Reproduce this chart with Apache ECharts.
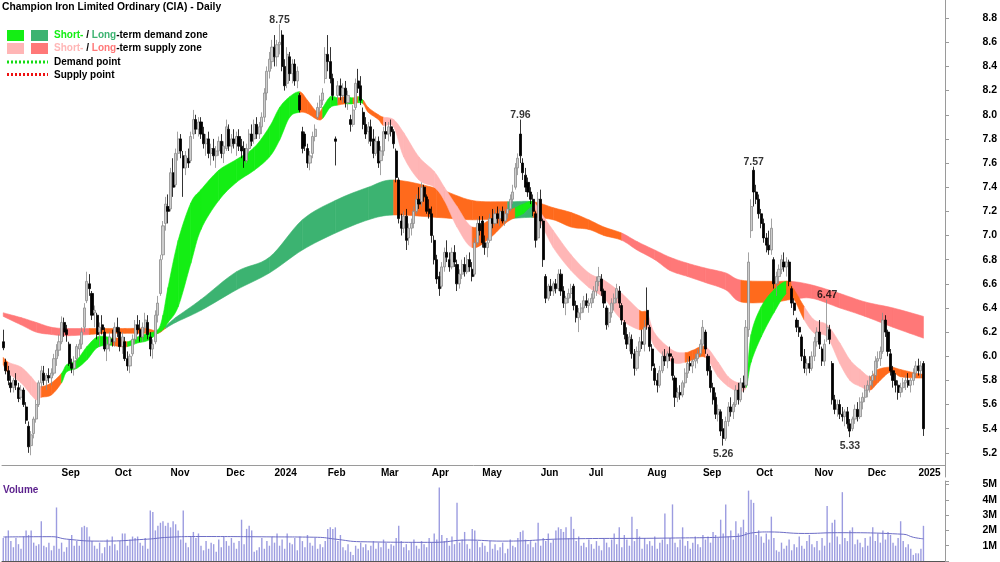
<!DOCTYPE html>
<html>
<head>
<meta charset="utf-8">
<title>Champion Iron Limited Ordinary (CIA) - Daily</title>
<script src="https://cdn.jsdelivr.net/npm/echarts@6/dist/echarts.min.js"></script>
<style>
  html, body { margin: 0; padding: 0; background: #fff; }
  #chart { width: 1000px; height: 562px; }
</style>
</head>
<body>
<div id="chart"></div>
<script>
// trading days: weekdays between these dates, minus ASX holidays
const firstDay = '2023-08-01';
const lastDay = '2025-01-03';
const holidays = ['2023-12-25', '2023-12-26', '2024-01-01', '2024-01-26', '2024-03-29',
  '2024-04-01', '2024-04-25', '2024-06-10', '2024-12-25', '2024-12-26', '2025-01-01'];
const blankDays = 9; // empty slots right of the last bar
const monthNames = ['', 'Feb', 'Mar', 'Apr', 'May', 'Jun', 'Jul', 'Aug', 'Sep', 'Oct', 'Nov', 'Dec'];

// daily bars [open, high, low, close]
const bars = [
  // 0-22
  [6.12,6.22,6.05,6.07],[5.95,5.98,5.85,5.88],[5.88,5.92,5.76,5.80],[5.78,5.84,5.70,5.74],[5.74,5.82,5.70,5.80],
  [5.80,5.86,5.72,5.76],[5.74,5.78,5.62,5.65],[5.66,5.76,5.64,5.72],[5.72,5.74,5.58,5.60],[5.58,5.62,5.44,5.47],
  [5.42,5.46,5.20,5.25],[5.26,5.38,5.18,5.35],[5.36,5.50,5.32,5.48],[5.48,5.64,5.45,5.60],[5.60,5.80,5.58,5.78],
  [5.78,5.92,5.74,5.88],[5.86,5.92,5.76,5.80],[5.80,5.86,5.72,5.84],[5.84,5.90,5.78,5.82],[5.82,5.90,5.76,5.86],
  [5.86,6.02,5.84,5.98],[5.98,6.10,5.92,6.05],[6.05,6.18,6.00,6.12],
  // 23-43
  [6.12,6.33,6.10,6.28],[6.28,6.32,6.16,6.20],[6.22,6.26,6.12,6.18],[6.10,6.12,5.92,5.94],[5.94,5.98,5.86,5.90],
  [5.90,6.00,5.84,5.96],[5.98,6.10,5.96,6.08],[6.06,6.14,6.00,6.10],[6.10,6.24,6.06,6.20],[6.24,6.44,6.20,6.40],
  [6.46,6.70,6.44,6.62],[6.60,6.68,6.50,6.56],[6.52,6.54,6.30,6.34],[6.36,6.42,6.24,6.38],[6.34,6.36,6.14,6.18],
  [6.20,6.28,6.08,6.24],[6.26,6.34,6.18,6.22],[6.20,6.24,6.04,6.06],[6.06,6.14,5.96,6.10],[6.10,6.20,6.04,6.16],
  [6.14,6.22,6.08,6.12],
  // 44-65
  [6.12,6.28,6.08,6.24],[6.24,6.32,6.16,6.20],[6.20,6.24,6.04,6.08],[6.08,6.20,6.02,6.16],[6.12,6.16,5.96,5.98],
  [5.98,6.04,5.88,5.92],[5.92,6.02,5.86,6.00],[6.02,6.18,6.00,6.14],[6.14,6.30,6.10,6.26],[6.26,6.34,6.18,6.22],
  [6.22,6.30,6.12,6.16],[6.16,6.28,6.12,6.24],[6.24,6.36,6.20,6.30],[6.28,6.34,6.14,6.18],[6.16,6.20,6.00,6.06],
  [6.06,6.14,5.98,6.10],[6.12,6.38,6.10,6.34],[6.34,6.50,6.28,6.44],[6.52,6.84,6.50,6.80],[6.84,7.12,6.80,7.08],
  [7.10,7.32,7.04,7.26],[7.24,7.34,7.10,7.20],
  // 66-88
  [7.22,7.56,7.20,7.52],[7.52,7.64,7.32,7.40],[7.42,7.72,7.40,7.68],[7.68,7.86,7.62,7.80],[7.80,7.84,7.64,7.70],
  [7.66,7.70,7.32,7.56],[7.56,7.70,7.50,7.66],[7.64,7.72,7.56,7.60],[7.62,7.86,7.60,7.82],[7.84,8.04,7.80,7.96],
  [7.96,8.00,7.84,7.88],[7.88,7.98,7.82,7.94],[7.94,7.98,7.80,7.84],[7.84,7.90,7.72,7.76],[7.76,7.84,7.66,7.80],
  [7.80,7.86,7.64,7.68],[7.68,7.76,7.58,7.72],[7.72,7.80,7.62,7.66],[7.66,7.74,7.56,7.70],[7.70,7.82,7.66,7.78],
  [7.78,7.84,7.64,7.68],[7.68,7.78,7.60,7.74],[7.72,7.96,7.70,7.90],
  // 89-107
  [7.88,7.92,7.70,7.74],[7.74,7.84,7.68,7.80],[7.80,7.88,7.72,7.76],[7.76,7.86,7.66,7.82],[7.82,7.88,7.70,7.74],
  [7.74,7.80,7.64,7.70],[7.72,7.78,7.56,7.62],[7.62,7.76,7.60,7.72],[7.72,7.88,7.68,7.84],[7.84,7.92,7.74,7.78],
  [7.80,7.96,7.76,7.92],[7.92,7.98,7.80,7.84],[7.84,7.94,7.80,7.90],[7.90,8.02,7.84,7.98],[7.98,8.22,7.94,8.18],
  [8.18,8.40,8.12,8.36],[8.36,8.52,8.30,8.46],[8.44,8.62,8.38,8.56],[8.56,8.66,8.40,8.48],
  // 108-128
  [8.48,8.62,8.40,8.58],[8.58,8.75,8.50,8.60],[8.66,8.70,8.36,8.40],[8.40,8.46,8.20,8.24],[8.26,8.56,8.22,8.50],
  [8.48,8.52,8.28,8.34],[8.34,8.46,8.26,8.42],[8.42,8.46,8.24,8.28],[8.28,8.40,8.22,8.36],[8.16,8.18,8.02,8.04],
  [7.86,7.90,7.68,7.72],[7.84,7.86,7.70,7.74],[7.72,7.76,7.56,7.60],[7.60,7.70,7.54,7.66],[7.68,7.86,7.64,7.82],
  [7.82,7.92,7.78,7.88],[7.98,8.10,7.96,8.06],[8.06,8.16,8.00,8.12],[8.12,8.22,8.08,8.18],[8.30,8.56,8.26,8.50],
  [8.50,8.66,8.36,8.44],
  // 129-149
  [8.44,8.56,8.26,8.30],[8.30,8.34,8.12,8.16],[7.80,7.82,7.58,7.78],[8.16,8.28,8.10,8.24],[8.24,8.30,8.12,8.16],
  [8.16,8.26,8.10,8.22],[8.22,8.28,8.06,8.10],[8.10,8.20,8.04,8.16],[7.96,8.00,7.86,7.92],[7.92,8.08,7.90,8.04],
  [8.06,8.30,8.04,8.26],[8.28,8.38,8.18,8.22],[8.24,8.32,8.08,8.12],[8.02,8.06,7.88,7.92],[7.92,7.98,7.80,7.84],
  [7.86,7.94,7.76,7.90],[7.90,7.96,7.74,7.78],[7.80,7.88,7.64,7.68],[7.68,7.82,7.66,7.78],[7.78,7.82,7.56,7.60],
  [7.62,7.74,7.50,7.70],
  // 150-169
  [7.70,7.90,7.66,7.86],[7.86,7.94,7.80,7.84],[7.84,7.94,7.78,7.90],[7.90,7.96,7.82,7.86],[7.86,7.88,7.72,7.76],
  [7.70,7.72,7.44,7.48],[7.46,7.48,7.10,7.14],[7.12,7.18,7.00,7.06],[7.06,7.20,7.02,7.16],[7.16,7.22,6.88,6.96],
  [6.98,7.10,6.92,7.06],[7.06,7.14,7.00,7.10],[7.10,7.24,7.06,7.20],[7.20,7.34,7.18,7.30],[7.30,7.40,7.22,7.26],
  [7.28,7.44,7.24,7.40],[7.40,7.42,7.28,7.32],[7.32,7.34,7.18,7.20],[7.22,7.30,7.14,7.18],[7.18,7.24,6.94,7.00],
  // 170-189
  [6.96,7.00,6.76,6.80],[6.80,6.84,6.60,6.64],[6.66,6.70,6.50,6.56],[6.58,6.78,6.56,6.74],[6.74,6.90,6.70,6.86],
  [6.86,6.96,6.78,6.82],[6.80,6.86,6.70,6.74],[6.74,6.90,6.72,6.86],[6.86,6.92,6.74,6.78],[6.76,6.80,6.54,6.60],
  [6.60,6.72,6.56,6.68],[6.68,6.80,6.64,6.76],[6.76,6.82,6.66,6.70],[6.70,6.84,6.68,6.80],[6.80,6.86,6.70,6.74],
  [6.72,6.78,6.62,6.66],[6.68,6.98,6.66,6.94],[6.94,7.14,6.92,7.10],[7.10,7.16,7.00,7.04],[7.12,7.16,6.90,6.94],
  // 190-212
  [6.94,7.00,6.84,6.90],[6.90,6.98,6.82,6.94],[6.96,7.18,6.94,7.14],[7.14,7.22,7.06,7.10],[7.10,7.22,7.08,7.18],
  [7.18,7.24,7.10,7.14],[7.14,7.22,7.08,7.20],[7.20,7.24,7.10,7.12],[7.12,7.22,7.08,7.18],[7.18,7.26,7.14,7.22],
  [7.22,7.34,7.20,7.30],[7.30,7.42,7.26,7.36],[7.40,7.60,7.38,7.56],[7.56,7.68,7.50,7.64],[7.84,7.96,7.60,7.66],
  [7.60,7.64,7.46,7.52],[7.50,7.56,7.36,7.40],[7.44,7.48,7.32,7.36],[7.36,7.40,7.26,7.30],[7.30,7.34,7.16,7.20],
  [7.18,7.20,6.90,6.96],[6.98,7.36,6.96,7.30],[7.30,7.38,7.06,7.12],
  // 213-231
  [7.12,7.14,6.74,6.80],[6.66,6.68,6.44,6.48],[6.48,6.60,6.46,6.58],[6.58,6.64,6.50,6.54],[6.54,6.62,6.50,6.60],
  [6.60,6.64,6.52,6.56],[6.56,6.72,6.54,6.68],[6.68,6.72,6.50,6.54],[6.54,6.58,6.40,6.44],[6.44,6.50,6.34,6.48],
  [6.48,6.56,6.44,6.52],[6.52,6.60,6.48,6.56],[6.58,6.60,6.38,6.42],[6.42,6.46,6.28,6.32],[6.32,6.40,6.20,6.36],
  [6.36,6.44,6.30,6.40],[6.40,6.50,6.36,6.46],[6.46,6.52,6.40,6.42],[6.42,6.48,6.36,6.44],
  // 232-254
  [6.44,6.52,6.40,6.48],[6.48,6.58,6.44,6.54],[6.54,6.66,6.50,6.62],[6.62,6.74,6.58,6.66],[6.64,6.68,6.50,6.54],
  [6.54,6.56,6.40,6.44],[6.40,6.42,6.22,6.26],[6.28,6.40,6.24,6.36],[6.36,6.48,6.32,6.44],[6.44,6.52,6.38,6.48],
  [6.48,6.60,6.44,6.56],[6.54,6.58,6.40,6.44],[6.42,6.44,6.26,6.30],[6.28,6.30,6.14,6.18],[6.18,6.24,6.06,6.10],
  [6.10,6.20,6.04,6.16],[6.14,6.18,5.98,6.02],[6.02,6.06,5.84,5.90],[5.90,6.08,5.88,6.04],[6.04,6.16,6.00,6.12],
  [6.12,6.22,6.06,6.10],[6.10,6.30,6.04,6.24],[6.38,6.57,6.22,6.26],
  // 255-276
  [6.24,6.26,6.04,6.08],[6.06,6.10,5.88,5.92],[5.90,5.94,5.76,5.80],[5.80,5.86,5.70,5.76],[5.76,5.92,5.74,5.88],
  [5.88,6.04,5.86,6.00],[6.00,6.06,5.92,5.96],[5.96,6.04,5.90,6.02],[6.02,6.08,5.96,6.00],[5.98,6.00,5.80,5.84],
  [5.82,5.84,5.58,5.66],[5.66,5.74,5.62,5.70],[5.70,5.76,5.64,5.68],[5.68,5.80,5.66,5.78],[5.78,5.90,5.74,5.86],
  [5.86,5.98,5.82,5.94],[5.94,6.00,5.88,5.92],[5.92,5.98,5.86,5.96],[5.96,6.02,5.90,5.98],[5.98,6.06,5.94,6.02],
  [6.02,6.14,6.00,6.10],[6.10,6.30,6.06,6.24],
  // 277-297
  [6.20,6.22,6.02,6.06],[6.00,6.02,5.84,5.88],[5.88,5.92,5.70,5.74],[5.74,5.78,5.60,5.64],[5.66,5.70,5.48,5.52],
  [5.52,5.60,5.46,5.56],[5.54,5.56,5.34,5.38],[5.40,5.48,5.26,5.32],[5.32,5.50,5.30,5.46],[5.46,5.62,5.42,5.58],
  [5.58,5.66,5.50,5.54],[5.54,5.62,5.48,5.60],[5.60,5.76,5.58,5.72],[5.72,5.78,5.60,5.64],[5.64,5.82,5.62,5.78],
  [5.78,5.84,5.70,5.74],[5.76,6.30,5.74,6.24],[6.22,6.86,6.16,6.78],[7.04,7.30,6.98,7.24],[7.54,7.57,7.24,7.36],
  [7.36,7.42,7.26,7.30],
  // 298-320
  [7.30,7.34,7.14,7.18],[7.18,7.22,7.06,7.10],[7.10,7.14,6.94,6.98],[6.98,7.02,6.86,6.92],[6.92,7.04,6.84,6.88],
  [6.88,7.14,6.84,7.06],[6.80,6.82,6.56,6.60],[6.60,6.70,6.50,6.66],[6.66,6.76,6.60,6.72],[6.72,6.84,6.68,6.80],
  [6.78,6.86,6.70,6.74],[6.74,6.82,6.66,6.78],[6.78,6.80,6.58,6.62],[6.56,6.58,6.40,6.44],[6.44,6.48,6.34,6.38],
  [6.30,6.32,6.20,6.24],[6.24,6.30,6.16,6.20],[6.16,6.18,5.96,6.00],[6.00,6.06,5.86,5.90],[5.90,5.98,5.84,5.94],
  [5.94,6.00,5.86,5.90],[5.90,6.04,5.88,6.00],[6.00,6.16,5.96,6.12],
  // 321-341
  [6.12,6.24,6.08,6.20],[6.20,6.30,6.06,6.10],[6.06,6.08,5.92,5.96],[5.96,6.14,5.92,6.10],[6.14,6.47,6.12,6.24],
  [6.22,6.26,6.10,6.14],[5.94,5.96,5.60,5.64],[5.64,5.68,5.52,5.56],[5.56,5.64,5.50,5.60],[5.60,5.64,5.48,5.52],
  [5.52,5.58,5.46,5.50],[5.50,5.56,5.42,5.54],[5.54,5.58,5.40,5.44],[5.44,5.48,5.33,5.38],[5.40,5.50,5.38,5.48],
  [5.48,5.60,5.44,5.56],[5.56,5.62,5.46,5.50],[5.50,5.66,5.48,5.62],[5.62,5.70,5.56,5.66],[5.66,5.76,5.62,5.72],
  [5.72,5.80,5.66,5.76],
  // 342-363
  [5.76,5.84,5.70,5.80],[5.80,5.88,5.74,5.84],[5.84,6.00,5.80,5.96],[5.96,6.04,5.90,5.98],[5.98,6.08,5.92,6.04],
  [6.04,6.36,6.02,6.30],[6.30,6.34,6.16,6.20],[6.20,6.22,6.00,6.04],[6.02,6.06,5.84,5.88],[5.88,5.92,5.74,5.80],
  [5.80,5.86,5.70,5.76],[5.76,5.80,5.64,5.70],[5.70,5.78,5.66,5.74],[5.74,5.82,5.70,5.78],[5.78,5.84,5.72,5.80],
  [5.80,5.86,5.74,5.76],[5.76,5.82,5.70,5.80],[5.80,5.90,5.76,5.86],[5.86,5.96,5.82,5.92],[5.92,5.98,5.84,5.88],
  [5.88,5.96,5.82,5.92],[5.94,5.96,5.34,5.40]
];

// daily volume, millions of shares
const volumes = [
  1.5,1.6,2.0,1.3,0.9,1.5,1.1,0.8,1.6,2.0,1.7,2.0,1.2,1.0,1.1,2.6,1.0,0.9,1.2,0.7,1.0,3.5,0.8,
  1.2,0.6,0.9,1.4,1.7,1.0,1.3,1.0,2.2,2.3,2.2,1.6,1.3,1.0,0.8,1.2,0.5,0.9,1.4,1.0,1.6,
  1.1,0.7,1.3,1.8,1.8,1.0,1.4,1.6,1.5,1.6,1.2,1.0,1.5,0.8,3.3,3.2,2.0,2.3,2.5,2.6,2.3,2.5,
  2.2,2.6,2.4,2.0,1.4,3.3,1.2,0.9,1.6,1.9,1.5,1.8,1.0,0.7,1.3,0.8,1.2,1.1,0.6,1.4,0.9,1.6,1.3,
  1.0,1.5,1.2,0.8,1.3,2.7,1.1,2.1,2.3,2.0,0.6,0.7,0.9,1.5,0.8,1.3,1.0,1.6,1.2,
  1.8,1.0,1.4,0.8,1.8,1.2,1.1,1.5,0.7,1.6,1.3,0.9,1.7,1.2,1.0,1.5,0.8,1.1,0.9,1.3,2.1,
  2.2,2.1,2.2,1.3,1.7,0.9,0.7,1.1,0.6,0.4,1.0,0.8,1.2,0.9,1.1,0.7,1.0,1.3,0.8,1.2,0.9,
  1.4,1.2,0.8,1.1,1.0,1.5,2.3,1.3,0.9,1.1,0.7,1.2,1.4,1.0,0.8,1.3,1.1,0.9,1.5,1.2,
  1.8,1.4,4.8,1.7,1.3,1.5,1.0,1.6,1.1,3.8,1.2,1.4,1.9,1.1,0.8,2.1,2.0,1.3,0.9,1.2,
  1.0,0.6,1.3,0.8,1.1,0.7,0.9,1.2,0.5,0.8,1.4,1.0,0.9,1.5,1.9,2.0,1.4,1.1,1.3,0.9,1.2,2.5,1.0,
  1.5,1.3,1.8,1.2,1.4,2.0,2.2,2.1,1.9,2.2,1.5,2.9,2.1,1.3,1.6,1.0,1.2,0.9,1.4,
  1.1,0.8,1.3,1.0,0.7,1.5,1.2,0.9,1.4,1.8,1.1,2.2,0.9,1.7,1.4,1.0,2.9,1.3,2.1,1.6,0.8,1.5,1.1,
  1.3,1.0,1.6,0.8,1.2,1.4,3.1,1.1,1.5,3.7,1.2,0.9,1.4,2.2,1.0,1.3,0.8,1.2,1.6,1.1,0.9,1.7,
  1.4,1.6,1.2,1.9,1.7,1.5,2.7,1.8,3.7,1.6,2.0,1.4,2.6,1.8,2.2,2.7,1.9,4.6,4.0,3.8,1.7,
  2.0,1.6,1.2,1.8,1.4,2.9,1.5,0.7,0.6,1.2,0.8,1.0,1.4,0.7,1.1,0.9,1.6,1.0,0.8,1.3,1.7,1.1,0.9,
  1.3,0.7,1.5,1.0,3.6,1.2,2.5,2.7,1.6,1.1,4.5,1.5,1.3,2.0,2.2,1.1,1.4,1.2,0.9,1.5,1.0,
  1.6,2.2,1.3,1.8,1.2,2.0,1.4,1.9,1.7,1.2,1.0,1.5,2.6,1.3,0.9,1.1,0.8,0.4,0.5,0.5,
  0.8,2.3
];

// volume moving average read at a few bars [bar, millions]
const volumeAvg = [[0,1.57],[19,1.59],[25,1.43],[38,1.30],[57,1.43],[65,1.55],[78,1.60],[104,1.58],
  [124,1.55],[131,1.43],[141,1.26],[170,1.22],[183,1.37],[197,1.30],[223,1.45],[263,1.50],[289,1.60],
  [296,1.85],[302,1.90],[316,1.80],[329,1.85],[355,1.75],[359,1.55],[363,1.45]];

// zones [bar, upper, lower, state]; state D demand, S supply, N neutral (to the next point)
const longZone = [
  [0,6.36,6.33,'S'],[7,6.32,6.26,'S'],[13,6.28,6.20,'S'],[19,6.24,6.18,'S'],[25,6.23,6.17,'S'],
  [34,6.23,6.18,'N'],[40,6.23,6.19,'N'],[48,6.23,6.19,'N'],[56,6.23,6.19,'N'],[61,6.21,6.19,'N'],
  [64,6.25,6.23,'D'],[68,6.32,6.28,'D'],[78,6.47,6.38,'D'],[92,6.70,6.55,'D'],[105,6.82,6.69,'D'],
  [118,7.13,6.88,'D'],[131,7.29,7.02,'D'],[144,7.40,7.13,'D'],[154,7.46,7.17,'N'],[171,7.39,7.15,'N'],
  [185,7.29,7.13,'N'],[199,7.28,7.14,'D'],[209,7.28,7.15,'N'],[217,7.23,7.13,'N'],[224,7.19,7.07,'N'],
  [231,7.13,7.05,'N'],[237,7.07,7.00,'N'],[244,7.02,6.96,'S'],[250,6.95,6.88,'S'],[257,6.88,6.80,'S'],
  [263,6.82,6.71,'S'],[270,6.77,6.66,'S'],[277,6.73,6.61,'S'],[285,6.69,6.55,'S'],[291,6.63,6.45,'N'],
  [304,6.62,6.45,'N'],[311,6.62,6.47,'S'],[319,6.59,6.48,'S'],[330,6.52,6.40,'S'],[340,6.45,6.33,'S'],
  [351,6.40,6.24,'S'],[363,6.33,6.15,'S']
];
const shortZone = [
  [0,5.99,5.93,'N'],[2,5.95,5.86,'S'],[7,5.91,5.78,'S'],[11,5.83,5.68,'S'],[13,5.78,5.64,'S'],
  [15,5.75,5.66,'N'],[19,5.78,5.68,'N'],[23,5.86,5.78,'D'],[25,5.93,5.87,'D'],[29,5.97,5.90,'D'],
  [33,6.08,5.97,'D'],[37,6.16,6.07,'D'],[41,6.16,6.09,'D'],[43,6.15,6.09,'N'],[46,6.15,6.08,'N'],
  [49,6.12,6.08,'D'],[53,6.16,6.11,'D'],[57,6.19,6.13,'D'],[61,6.22,6.19,'D'],[63,6.34,6.22,'D'],
  [65,6.57,6.28,'D'],[69,6.96,6.41,'D'],[74,7.27,6.77,'D'],[78,7.38,7.05,'D'],[85,7.54,7.29,'D'],
  [92,7.63,7.44,'D'],[99,7.73,7.54,'D'],[105,7.90,7.65,'D'],[109,8.06,7.79,'D'],[113,8.15,7.98,'D'],
  [117,8.19,8.02,'N'],[120,8.12,8.01,'N'],[124,8.02,7.96,'N'],[126,8.06,7.97,'D'],[129,8.15,8.06,'D'],
  [132,8.14,8.08,'N'],[135,8.15,8.09,'D'],[138,8.14,8.09,'N'],[140,8.15,8.10,'D'],[142,8.12,8.09,'N'],
  [144,8.06,8.02,'N'],[148,8.00,7.96,'N'],[150,7.98,7.91,'S'],[154,7.96,7.90,'S'],[158,7.85,7.65,'S'],
  [164,7.65,7.46,'S'],[170,7.53,7.40,'S'],[174,7.40,7.29,'S'],[179,7.24,7.07,'S'],[185,7.07,6.90,'N'],
  [192,7.13,6.98,'N'],[198,7.19,7.10,'N'],[202,7.23,7.15,'D'],[205,7.26,7.18,'D'],[209,7.28,7.24,'S'],
  [212,7.19,7.11,'S'],[217,7.04,6.90,'S'],[224,6.84,6.71,'S'],[231,6.69,6.57,'S'],[237,6.63,6.48,'S'],
  [244,6.52,6.30,'S'],[251,6.38,6.22,'N'],[254,6.36,6.24,'S'],[257,6.19,6.08,'S'],[264,6.05,5.95,'S'],
  [269,6.03,5.95,'N'],[272,6.05,5.97,'N'],[277,6.08,5.99,'S'],[282,5.95,5.83,'S'],[286,5.83,5.75,'S'],
  [290,5.78,5.71,'S'],[293,5.80,5.74,'D'],[295,6.18,5.95,'D'],[299,6.41,6.16,'D'],[304,6.55,6.36,'D'],
  [309,6.62,6.52,'N'],[312,6.55,6.47,'N'],[316,6.41,6.30,'S'],[320,6.30,6.19,'S'],[325,6.26,6.16,'S'],
  [330,6.11,5.94,'S'],[334,5.97,5.80,'S'],[338,5.89,5.75,'S'],[342,5.83,5.72,'N'],[345,5.89,5.78,'N'],
  [350,5.91,5.87,'N'],[354,5.89,5.83,'N'],[360,5.86,5.82,'N'],[363,5.85,5.82,'N']
];

// labelled turning points [bar, price, side]
const peaks = [[109,8.75,'top'],[204,7.96,'top'],[296,7.57,'top'],[325,6.47,'top'],[284,5.26,'bottom'],[334,5.33,'bottom']];

// build the category list
const dates = [];
const end = new Date(lastDay + 'T00:00:00Z');
for (let d = new Date(firstDay + 'T00:00:00Z'); d <= end; d.setUTCDate(d.getUTCDate() + 1)) {
  const wd = d.getUTCDay();
  const s = d.toISOString().slice(0, 10);
  if (wd === 0 || wd === 6 || holidays.includes(s)) continue;
  dates.push(s);
}
for (let k = 0; k < blankDays; k++) dates.push('pad' + k);

const monthStart = new Set();
dates.forEach((d, i) => {
  if (i > 0 && d.length === 10 && d.slice(0, 7) !== dates[i - 1].slice(0, 7)) monthStart.add(i);
});
const monthLabel = (value) => {
  const m = +value.slice(5, 7);
  return m === 1 ? value.slice(0, 4) : monthNames[m - 1];
};

const FONT = '"Liberation Sans", Arial, sans-serif';
const shortColors = { D: '#14ee14', S: '#ffb6b6', N: '#ff6a1c' };
const longColors = { D: '#3cb371', S: '#ff7878', N: '#ff6a1c' };

// catmull-rom between pixel points, just to round the band outline
const spline = (p0, p1, p2, p3, t) => {
  const t2 = t * t, t3 = t2 * t;
  return [0, 1].map(j => 0.5 * (2 * p1[j] + (p2[j] - p0[j]) * t +
    (2 * p0[j] - 5 * p1[j] + 4 * p2[j] - p3[j]) * t2 + (3 * p1[j] - p0[j] - 3 * p2[j] + p3[j]) * t3));
};

const zoneSeries = (zone, palette) => ({
  type: 'custom',
  xAxisIndex: 0,
  yAxisIndex: 0,
  silent: true,
  z: 2,
  data: zone.map(p => [p[0], p[1], p[2]]),
  encode: { x: 0, y: [1, 2] },
  renderItem: (params, api) => {
    const i = params.dataIndex;
    if (i >= zone.length - 1) return null;
    const pick = k => zone[Math.max(0, Math.min(zone.length - 1, k))];
    const up = [i - 1, i, i + 1, i + 2].map(k => api.coord([pick(k)[0], pick(k)[1]]));
    const lo = [i - 1, i, i + 1, i + 2].map(k => api.coord([pick(k)[0], pick(k)[2]]));
    const top = [], bottom = [];
    for (let s = 0; s <= 8; s++) {
      top.push(spline(up[0], up[1], up[2], up[3], s / 8));
      bottom.push(spline(lo[0], lo[1], lo[2], lo[3], s / 8));
    }
    const col = palette[zone[i][3]];
    return {
      type: 'polygon',
      shape: { points: top.concat(bottom.reverse()) },
      style: { fill: col, stroke: col, lineWidth: 0.6 }
    };
  }
});

const chart = echarts.init(document.getElementById('chart'));

chart.setOption({
  animation: false,
  backgroundColor: '#fff',
  grid: [
    { left: 2, right: 55, top: -6, height: 483, outerBoundsMode: 'none', containLabel: false },
    { left: 2, right: 55, top: 481, height: 80, outerBoundsMode: 'none', containLabel: false }
  ],
  xAxis: [
    {
      type: 'category', gridIndex: 0, data: dates, boundaryGap: true, offset: -12,
      axisLine: { lineStyle: { color: '#9a9a9a' } },
      axisTick: { interval: (i) => monthStart.has(i), length: 3, lineStyle: { color: '#9a9a9a' } },
      axisLabel: {
        interval: (i) => monthStart.has(i), formatter: monthLabel, align: 'left', margin: 3,
        color: '#000', fontWeight: 'bold', fontSize: 10, fontFamily: FONT
      },
      splitLine: { show: false }
    },
    {
      type: 'category', gridIndex: 1, data: dates, boundaryGap: true, position: 'top',
      axisLine: { lineStyle: { color: '#555' } },
      axisTick: { show: false }, axisLabel: { show: false }, splitLine: { show: false }
    }
  ],
  yAxis: [
    {
      type: 'value', gridIndex: 0, position: 'right', min: 5, max: 9, interval: 0.2,
      axisLine: { show: true, lineStyle: { color: '#9a9a9a' } },
      axisTick: { show: true, length: 4, lineStyle: { color: '#9a9a9a' } },
      axisLabel: {
        formatter: v => v.toFixed(1), showMinLabel: false, showMaxLabel: false,
        align: 'right', margin: 52, color: '#000', fontWeight: 'bold', fontSize: 10.5, fontFamily: FONT
      },
      splitLine: { show: false }
    },
    {
      type: 'value', gridIndex: 1, position: 'right', min: 0, max: 5.23, interval: 1,
      axisLine: { show: true, lineStyle: { color: '#9a9a9a' } },
      axisTick: { show: true, length: 4, lineStyle: { color: '#9a9a9a' } },
      axisLabel: {
        formatter: v => (v >= 1 && Math.abs(v - Math.round(v)) < 1e-6) ? Math.round(v) + 'M' : '',
        align: 'right', margin: 52, color: '#000', fontWeight: 'bold', fontSize: 10.5, fontFamily: FONT
      },
      splitLine: { show: false }
    }
  ],
  series: [
    zoneSeries(longZone, longColors),
    zoneSeries(shortZone, shortColors),
    {
      type: 'candlestick', xAxisIndex: 0, yAxisIndex: 0, z: 5,
      data: bars.map(b => [b[0], b[3], b[2], b[1]]),
      barWidth: 2.6,
      itemStyle: { color: '#cdcdcd', color0: '#000', borderColor: '#8c8c8c', borderColor0: '#000', borderWidth: 0.8 }
    },
    {
      type: 'scatter', xAxisIndex: 0, yAxisIndex: 0, z: 6, symbolSize: 0, silent: true,
      data: peaks.map(p => ({ value: [p[0], p[1]], label: { position: p[2], offset: [0, p[2] === 'top' ? 4 : 0] } })),
      label: {
        show: true, distance: 3, formatter: p => p.value[1].toFixed(2),
        color: '#000', fontWeight: 'bold', fontSize: 10.5, fontFamily: FONT
      }
    },
    {
      type: 'bar', xAxisIndex: 1, yAxisIndex: 1, data: volumes, barWidth: 1.4, silent: true,
      itemStyle: { color: '#9c9ce0' }
    },
    {
      type: 'line', xAxisIndex: 1, yAxisIndex: 1, data: volumeAvg, smooth: true, symbol: 'none', silent: true,
      lineStyle: { color: '#6d6dc6', width: 1 }
    }
  ],
  graphic: [
    { type: 'text', x: 2, y: 7, style: { text: 'Champion Iron Limited Ordinary (CIA) - Daily', font: 'bold 10.3px ' + FONT, fill: '#000', verticalAlign: 'middle' } },
    { type: 'rect', shape: { x: 7, y: 30, width: 17, height: 11 }, style: { fill: shortColors.D } },
    { type: 'rect', shape: { x: 31, y: 30, width: 17, height: 11 }, style: { fill: longColors.D } },
    {
      type: 'text', x: 54, y: 35.5,
      style: {
        text: '{a|Short-}{k| / }{b|Long}{k|-term demand zone}', verticalAlign: 'middle',
        rich: {
          a: { fill: shortColors.D, font: 'bold 10px ' + FONT },
          b: { fill: longColors.D, font: 'bold 10px ' + FONT },
          k: { fill: '#000', font: 'bold 10px ' + FONT }
        }
      }
    },
    { type: 'rect', shape: { x: 7, y: 43, width: 17, height: 11 }, style: { fill: shortColors.S } },
    { type: 'rect', shape: { x: 31, y: 43, width: 17, height: 11 }, style: { fill: longColors.S } },
    {
      type: 'text', x: 54, y: 48.5,
      style: {
        text: '{a|Short-}{k| / }{b|Long}{k|-term supply zone}', verticalAlign: 'middle',
        rich: {
          a: { fill: shortColors.S, font: 'bold 10px ' + FONT },
          b: { fill: longColors.S, font: 'bold 10px ' + FONT },
          k: { fill: '#000', font: 'bold 10px ' + FONT }
        }
      }
    },
    { type: 'line', shape: { x1: 7, y1: 62, x2: 48, y2: 62 }, style: { stroke: '#14dd14', lineWidth: 3, lineDash: [2, 2] } },
    { type: 'text', x: 54, y: 62, style: { text: 'Demand point', font: 'bold 10px ' + FONT, fill: '#000', verticalAlign: 'middle' } },
    { type: 'line', shape: { x1: 7, y1: 74.5, x2: 48, y2: 74.5 }, style: { stroke: '#ee1111', lineWidth: 3, lineDash: [2, 2] } },
    { type: 'text', x: 54, y: 75, style: { text: 'Supply point', font: 'bold 10px ' + FONT, fill: '#000', verticalAlign: 'middle' } },
    { type: 'text', x: 3, y: 490, style: { text: 'Volume', font: 'bold 10px ' + FONT, fill: '#5a1f8c', verticalAlign: 'middle' } }
  ]
});
</script>
</body>
</html>
